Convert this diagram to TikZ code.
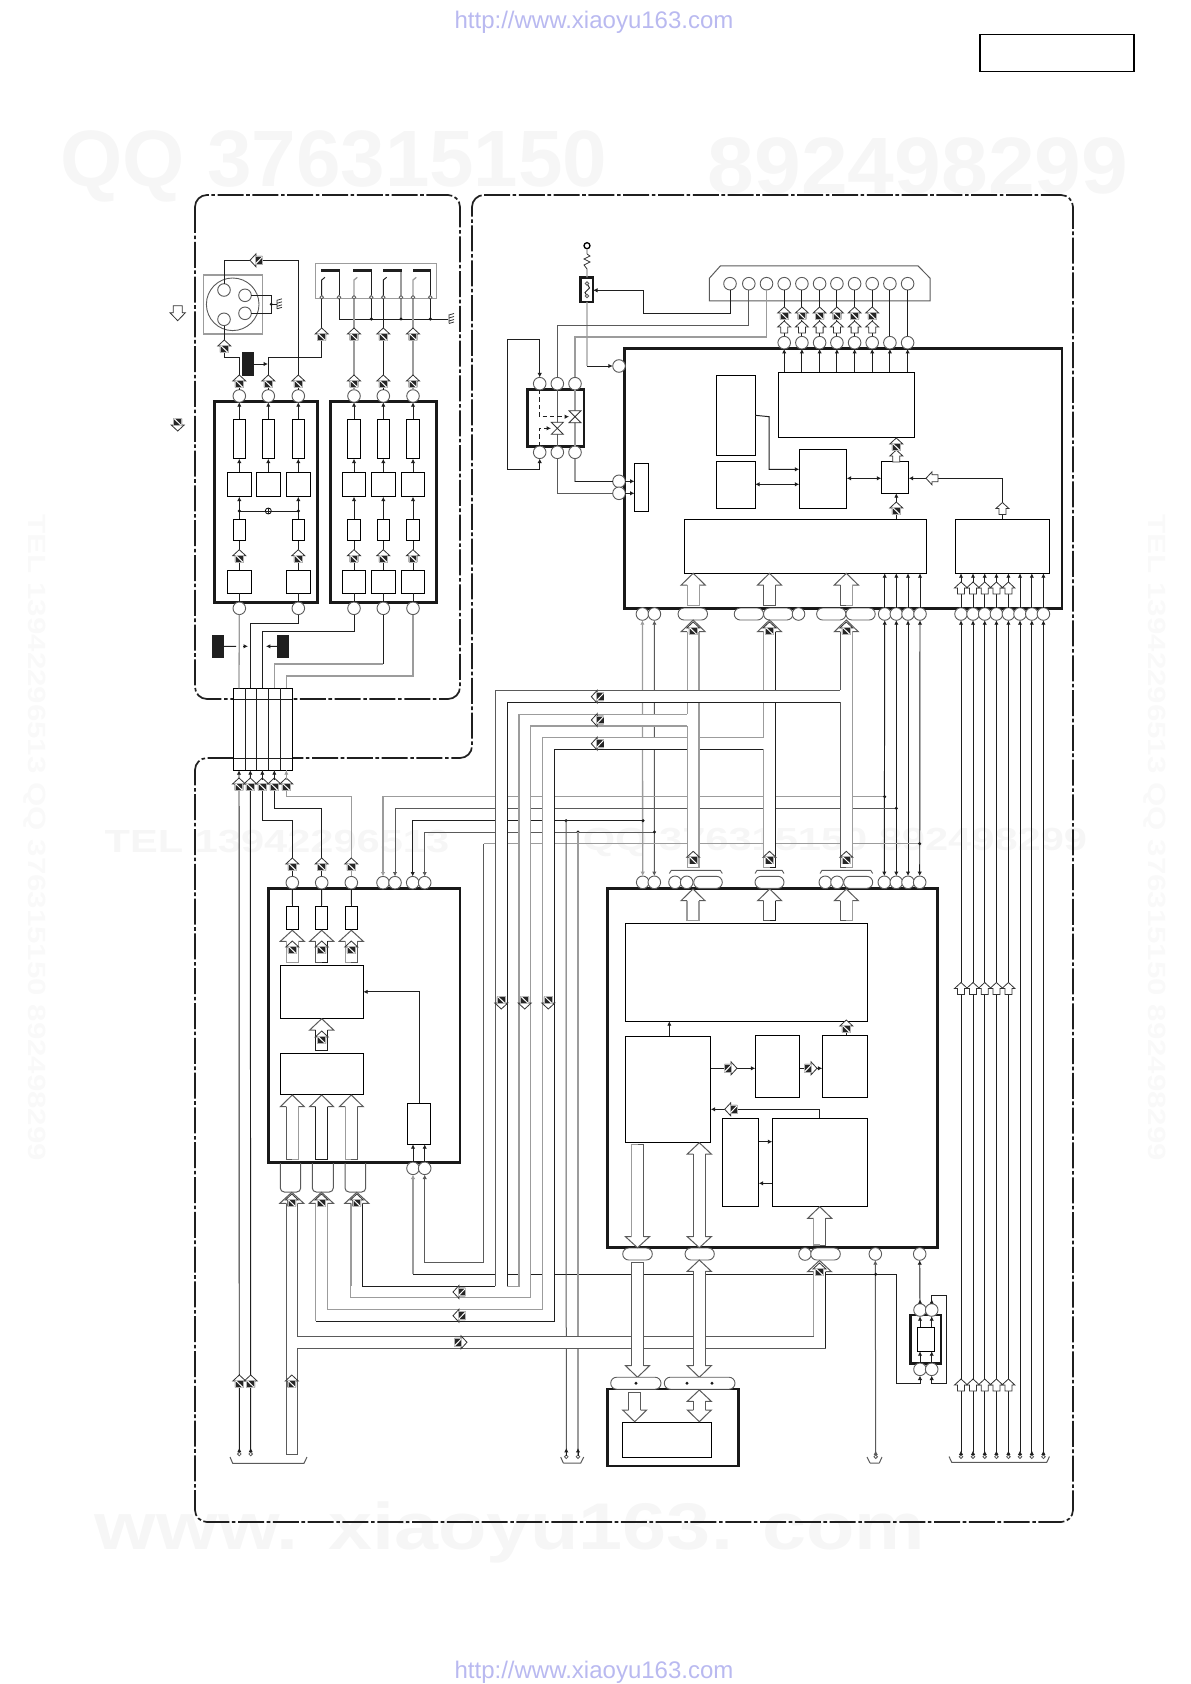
\documentclass[tikz,border=0pt]{standalone}
\usepackage{fontspec}
\setmainfont{Liberation Sans}
\usetikzlibrary{arrows.meta,shapes.misc}
\definecolor{wm}{HTML}{F6F6F6}
\definecolor{wmv}{HTML}{F9F9F9}
\definecolor{urlc}{HTML}{B9B9F0}
\definecolor{gw1}{HTML}{9C9C9C}
\definecolor{dw1}{HTML}{5A5A5A}
\tikzset{
 wr/.style={line width=.48pt,black!88},
 gw/.style={line width=.65pt,gw1},
 dw/.style={line width=.5pt,dw1},
 ar/.style={-{Latex[length=2.2pt,width=2.2pt]}},
 ra/.style={{Latex[length=2.2pt,width=2.2pt]}-},
 aa/.style={{Latex[length=2.2pt,width=2.2pt]}-{Latex[length=2.2pt,width=2.2pt]}},
 uu/.style={{Latex[length=2.2pt,width=2.2pt]}-{Latex[length=2.2pt,width=2.2pt,reversed]}},
 pn/.style={circle,draw=dw1,line width=.45pt,fill=white,minimum size=6.3pt,inner sep=0pt,outer sep=0pt},
 tc/.style={circle,draw=dw1,line width=.4pt,fill=white,minimum size=1.8pt,inner sep=0pt,outer sep=0pt},
 blk/.style={rectangle,draw=black,line width=.5pt,inner sep=0pt,outer sep=0pt},
 blkw/.style={blk,fill=white},
 blkg/.style={rectangle,draw=gw1,line width=.6pt,inner sep=0pt,outer sep=0pt},
 thk/.style={rectangle,draw=black!90,line width=1.3pt,inner sep=0pt,outer sep=0pt},
 blkt/.style={rectangle,draw=black,line width=.65pt,inner sep=0pt,outer sep=0pt},
 blkb/.style={rectangle,fill=black!88,inner sep=0pt,outer sep=0pt},
 pl/.style={rounded rectangle,draw=dw1,line width=.45pt,fill=white,inner sep=0pt,outer sep=0pt},
 bnd/.style={line width=.85pt,black!88,rounded corners=6pt,dash pattern=on 13pt off 1.3pt on 1.8pt off 1.3pt},
 wmk/.style={text=wm,inner sep=0pt,transform shape},
 wmkv/.style={text=wmv,inner sep=0pt,transform shape},
 urlt/.style={text=urlc,inner sep=0pt,font=\fontsize{12}{12}\selectfont},
 sl/.style={line width=.4pt,black!80},
}
\newcommand\blk[6][blk]{\pgfmathsetmacro\bw{((#5)-(#3))*0.5}\pgfmathsetmacro\bh{((#6)-(#4))*0.5}%
 \node[#1,minimum width=\bw pt,minimum height=\bh pt] (#2) at ({((#3)+(#5))/2},{((#4)+(#6))/2}) {};}
\newcommand\pill[4]{\pgfmathsetmacro\bw{((#3)-(#2))*0.5}%
 \node[pl,minimum width=\bw pt,minimum height=6pt] (#1) at ({((#2)+(#3))/2},#4) {};}
\newcommand\sig[3]{\begin{scope}[shift={(#1,#2)},rotate=#3]
 \draw[sl,fill=white] (0,-7)--(6.5,-1)--(4,-1)--(4,5)--(-4,5)--(-4,-1)--(-6.5,-1)--cycle;
 \fill[black!30] (-4.3,-2) rectangle (4.3,6);
 \fill[black!85] (-3.3,-1.2) rectangle (3.3,5.2);
 \draw[white,line width=.5pt] (-3.3,-1.2)--(3.3,5.2);
\end{scope}}
\newcommand\hout[3]{\begin{scope}[shift={(#1,#2)},rotate=#3]
 \draw[sl,fill=white] (0,-6)--(6.5,0)--(3.5,0)--(3.5,6)--(-3.5,6)--(-3.5,0)--(-6.5,0)--cycle;
\end{scope}}
\newcommand\bus[6]{\fill[white] ({#1-12},#3)--(#1,#2)--({#1+12},#3)--({#1+6},#3)--({#1+6},#4)--({#1-6},#4)--({#1-6},#3)--cycle;
 \draw[dw] ({#1-6},#3)--({#1-12},#3)--(#1,#2)--({#1+12},#3)--({#1+6},#3);
 \draw[#5] ({#1-6},#3)--({#1-6},#4)--(#1,#4);
 \draw[#6] ({#1+6},#3)--({#1+6},#4)--(#1,#4);}
\newcommand\dbus[7]{\fill[white] ({#1-6},#3) rectangle ({#1+6},#4);
 \fill[white] ({#1-12},#3)--(#1,#2)--({#1+12},#3)--cycle;
 \fill[white] ({#1-12},#4)--(#1,#5)--({#1+12},#4)--cycle;
 \draw[dw] ({#1-6},#3)--({#1-12},#3)--(#1,#2)--({#1+12},#3)--({#1+6},#3);
 \draw[dw] ({#1-6},#4)--({#1-12},#4)--(#1,#5)--({#1+12},#4)--({#1+6},#4);
 \draw[#6] ({#1-6},#3)--({#1-6},#4);
 \draw[#7] ({#1+6},#3)--({#1+6},#4);}
\newcommand\bhead[3]{\fill[white] ({#1-12},#3)--(#1,#2)--({#1+12},#3)--cycle;
 \draw[dw] ({#1-6},#3)--({#1-12},#3)--(#1,#2)--({#1+12},#3)--({#1+6},#3);}
\newcommand\jdot[2]{\fill[black!90] (#1,#2) circle[radius=.85pt];}
\newcommand\hglass[2]{\draw[sl,fill=white] ({#1-6},{#2-6})--({#1+6},{#2-6})--({#1-6},{#2+6})--({#1+6},{#2+6})--cycle;}
\newcommand\gndsym[2]{\draw[sl] (#1,{#2-4.5})--(#1,{#2+4.5}) (#1,{#2-4})--({#1+5},{#2-5.5}) (#1,{#2-1})--({#1+5},{#2-2.5}) (#1,{#2+2})--({#1+5},{#2+.5}) (#1,{#2+4.5})--({#1+5},{#2+3});}
\begin{document}
\begin{tikzpicture}[x=0.5pt,y=-0.5pt]
\useasboundingbox (0,0) rectangle (1190,1684);
%% watermarks
\node[wmk,font=\bfseries\fontsize{40}{40}\selectfont] (w1) at (334,166) {QQ 376315150};
\node[wmk,font=\bfseries\fontsize{40}{40}\selectfont,xscale=1.05] (w2) at (918,166) {892498299};
\node[wmk,font=\bfseries\fontsize{16}{16}\selectfont,xscale=1.3] (w3) at (277,842) {TEL 13942296513};
\node[wmk,font=\bfseries\fontsize{16}{16}\selectfont,xscale=1.3] (w4) at (835,842) {QQ 376315150 892498299};
\node[wmk,font=\bfseries\fontsize{33}{33}\selectfont,xscale=1.2] (w5) at (510,1532) {www. xiaoyu163. com};
\node[wmkv,font=\bfseries\fontsize{12.5}{12.5}\selectfont,rotate=-90,xscale=1.25] (w6) at (35,838) {TEL 13942296513 QQ 376315150 892498299};
\node[wmkv,font=\bfseries\fontsize{12.5}{12.5}\selectfont,rotate=-90,xscale=1.25] (w7) at (1155,838) {TEL 13942296513 QQ 376315150 892498299};
\node[urlt] (u1) at (594,22) {http://www.xiaoyu163.com};
\node[urlt] (u2) at (594,1672) {http://www.xiaoyu163.com};
\blk[blkt]{title}{980}{34.5}{1134}{71.5}
%% boundaries
\draw[bnd] (195,195) rectangle (460,699);
\draw[bnd] (472,195) -- (1073,195) -- (1073,1522) -- (195,1522) -- (195,758) -- (472,758) -- cycle;
%% legend arrows
\draw[sl,fill=white] (170,312.7)--(173.2,312.7)--(173.2,305.7)--(182.2,305.7)--(182.2,312.7)--(185.4,312.7)--(177.7,320.7)--cycle;
\sig{177.7}{424}{180}
%% plug
\blk[blkg]{sq}{203.3}{275}{262.3}{334}
\node[circle,draw=dw1,line width=.45pt,minimum size=26.3pt,inner sep=0pt] (plug) at (232.7,304.3) {};
\foreach \n/\x/\y in {cn1/224/290,cn2/245/295.3,cn3/245/313.3,cn4/224/319.3}{\node[pn] (\n) at (\x,\y) {};}
\draw[wr] (cn2.east) -| (271.3,313.3) -- (cn3.east);
\draw[wr] (271.3,304.3) -- (276.7,304.3); \jdot{271.3}{304.3}
\gndsym{277}{304.3}
%% switches
\blk[blkg]{swb}{315.3}{263.3}{436.3}{298.3}
\foreach \n/\x in {sd1/321.7,sd2/339,sd3/354,sd4/371.3,sd5/383.3,sd6/401,sd7/413,sd8/430.3}{\node[tc] (\n) at (\x,297.3) {};}
\blk[blkb]{b1}{321}{269}{340}{272.5}
\blk[blkb]{b2}{353.3}{269}{372}{272.5}
\blk[blkb]{b3}{383}{269}{401.7}{272.5}
\blk[blkb]{b4}{412.7}{269}{431}{272.5}
\draw[wr] (sd1.north)--(321.7,280)--(325,277.3);
\draw[gw] (sd3.north)--(354,280)--(357.3,277.3);
\draw[wr] (sd5.north)--(383.3,280)--(386.6,277.3);
\draw[gw] (sd7.north)--(413,280)--(416.3,277.3);
\draw[wr] (sd2.north)--(sd2|-b1.south);
\draw[wr] (sd4.north)--(sd4|-b2.south);
\draw[gw] (sd6.north)--(sd6|-b3.south);
\draw[wr] (sd8.north)--(sd8|-b4.south);
\draw[wr] (sd2.south) |- (448.3,319);
\draw[wr] (sd4.south)--(371.3,319); \draw[gw] (sd6.south)--(401,319); \draw[wr] (sd8.south)--(430.3,319);
\jdot{371.3}{319}\jdot{401}{319}\jdot{430.3}{319}
\gndsym{449}{319}
%% IC 1 and 2
\blk[thk]{ic1}{214.3}{401.7}{317.7}{602.7}
\blk[thk]{ic2}{330.3}{401.7}{436.3}{602.7}
\foreach \n/\x in {a1/239.3,a2/268.3,a3/298.3,b1/354,b2/383.3,b3/413}{
 \node[pn] (p\n) at (\x,396) {};
 \blk{t\n}{\x-6.2}{419.3}{\x+6.2}{458.7}
 \blk{m\n}{\x-11.9}{472.3}{\x+11.9}{496.7}
 \draw[wr,ar] (t\n.north)--(p\n.south);
 \draw[wr,ar] (m\n.north)--(t\n.south);
}
\foreach \n/\x in {a1/239.3,a3/298.3,b1/354,b2/383.3,b3/413}{
 \blk{s\n}{\x-6.2}{519.3}{\x+6.2}{540.7}
 \blk{c\n}{\x-11.9}{570}{\x+11.9}{593.3}
 \node[pn] (q\n) at (\x,608.3) {};
 \draw[wr,ar] (s\n.north)--(m\n.south);
 \draw[wr] (c\n.north)--(s\n.south);
 \draw[wr] (q\n.north)--(c\n.south);
 \sig{\x}{556.7}{0}
}
\node[circle,draw=black,line width=.4pt,minimum size=3pt,inner sep=0pt] (mix) at (268.3,511) {};
\draw[wr] (mix.north) -- (mix.south) (mix.west) -- (mix.east);
\draw[wr] (mix.west)--(239.3,511) (mix.east)--(298.3,511);
\jdot{239.3}{511}\jdot{298.3}{511}
%% connections of IC1/2 to plug & switches
\draw[wr] (cn1.north) |- (298.3,260.3) -- (pa3.north);
\draw[wr] (cn4.south) |- (239.3,357) -- (pa1.north);
\draw[wr] (pa2.north) |- (321.7,357.3) -- (sd1.south);
\draw[gw] (pb1.north)--(sd3.south);
\draw[wr] (pb2.north)--(sd5.south);
\draw[gw] (pb3.north)--(sd7.south);
\blk[blkb]{br1}{242}{352.3}{254}{375.7}
\draw[wr,ar] (br1.east)--(268,364);
\sig{257}{260.3}{90}
\sig{224.3}{347}{0}
\foreach \x in {321.7,354,383.3,413}{\sig{\x}{335}{0}}
\foreach \x in {239.3,268.3,298.3,354,383.3,413}{\sig{\x}{382}{0}}
%% connector block
\blk[blkw]{conn}{233.7}{688.3}{292.3}{770.3}
\draw[wr] (233.7,699.3)--(292.3,699.3) (233.7,758.3)--(292.3,758.3);
\foreach \x in {245.3,256.7,268.7,280.7}{\draw[wr] (\x,688.3)--(\x,770.3);}
\foreach \n/\x in {ct1/239,ct2/250.3,ct3/262.3,ct4/274.3,ct5/286.3}{\coordinate (\n) at (\x,688.3); \coordinate (\n b) at (\x,770.3);}
\draw[gw] (qa1.south)--(ct1);
\draw[wr] (qa3.south) |- (250.3,623.3) -- (ct2);
\draw[wr] (qb1.south) |- (262.3,631.3) -- (ct3);
\draw[wr] (qb2.south) -- (383.3,664);
\draw[gw] (383.3,664) -- (274.3,664) -- (ct4);
\draw[gw] (qb3.south) |- (286.3,676) -- (ct5);
\blk[blkb]{br2}{212}{635}{224}{657.7}
\blk[blkb]{br3}{277}{635}{289}{657.7}
\draw[wr] (br2.east)--(236,646.3);
\draw[wr,ar] (243,646.3)--(248,646.3);
\draw[wr,ar] (br3.west)--(266,646.3);
%% IC 3
\blk[thk]{ic3}{268.3}{888.3}{460}{1162.7}
\foreach \n/\x in {w1/292.3,w2/321.7,w3/351.3,w4/383,w5/395,w6/412.7,w7/424.7}{\node[pn] (\n) at (\x,882.7) {};}
\blk{r1}{286.3}{906.3}{298.7}{929.3}
\blk{r2}{315.3}{906.3}{327.7}{929.3}
\blk{r3}{345.3}{906.3}{357.7}{929.3}
\draw[wr] (w1.south)--(r1.north); \draw[wr] (w2.south)--(r2.north); \draw[wr] (w3.south)--(r3.north);
\blk{ib1}{280.3}{965.3}{363.3}{1018.3}
\blk{ib2}{280.3}{1053.3}{363.3}{1094.3}
\blk{ib3}{407.3}{1103.3}{430.7}{1144.3}
\draw[wr,ar] (ib3.north) |- (ib1.east);
\node[pn] (z1) at (413,1168.3) {};
\node[pn] (z2) at (424.7,1168.3) {};
\draw[wr,ar] (z1.north)--(413,1144.3);
\draw[wr,ar] (z2.north)--(424.7,1144.3);
\bus{292.3}{930.3}{941.3}{962.3}{gw}{gw}
\bus{321.7}{930.3}{941.3}{962.3}{dw}{wr}
\bus{351.3}{930.3}{941.3}{962.3}{gw}{dw}
\sig{292.3}{948}{0}\sig{321.7}{948}{0}\sig{351.3}{948}{0}
\bus{321.7}{1018.7}{1030}{1050.3}{wr}{wr}
\sig{321.7}{1038}{0}
\bus{292.3}{1095}{1106.7}{1159.3}{dw}{gw}
\bus{321.7}{1095}{1106.7}{1159.3}{wr}{wr}
\bus{351.3}{1095}{1106.7}{1159.3}{gw}{dw}
\foreach \a/\b in {280.3/300.7,312.3/333.3,345/365.7}{
 \draw[dw,rounded corners=2pt] (\a,1163)--(\a,1192)--(\b,1192)--(\b,1163);
}
%% wires from connector to IC3
\draw[wr] (ct3b) -- (262.3,820) -| (w1.north);
\draw[wr] (ct4b) -- (274.3,808.7) -| (w2.north);
\draw[gw] (ct5b) -- (286.3,796.7) -| (w3.north);
\foreach \x in {292.3,321.7,351.3}{\sig{\x}{865}{0}}
%% IC 4
\blk[thk]{ic4}{624.7}{348.7}{1061.9}{608.3}
\draw[dw,line width=.5pt] (709.3,301)--(709.3,278.3)--(720.3,266)--(918.1,266)--(930.2,278.3)--(930.2,301)--cycle;
\foreach \i/\x in {1/730,2/748.8,3/766.5,4/784.2,5/801.9,6/819.6,7/836.9,8/854.6,9/872.2,10/889.9,11/907.6}{\node[pn] (dp\i) at (\x,283.7) {};}
\foreach \i/\x in {1/784.2,2/801.9,3/819.6,4/836.9,5/854.6,6/872.2,7/889.9,8/907.6}{\node[pn] (tp\i) at (\x,342.7) {};}
\blk{d1}{778.2}{372.3}{914.4}{437.3}
\blk{d2}{716.5}{375.3}{755.2}{455.3}
\blk{d3}{716.5}{461.7}{755.2}{508.3}
\blk{d4}{799.3}{449.3}{846.7}{508.3}
\blk{d5}{881.3}{461.7}{908.7}{493.3}
\blk{d6}{684.5}{519.3}{926.4}{573.3}
\blk{d7}{955.4}{519.3}{1049.4}{573.3}
\blk{d8}{634.5}{463.7}{648.4}{511.3}
\foreach \i/\j in {4/1,5/2,6/3,7/4,8/5,9/6,10/7,11/8}{
 \draw[wr] (dp\i.south)--(tp\j.north);
 \draw[wr,ar] (tp\j|-d1.north)--(tp\j.south);
}
\foreach \x in {784.2,801.9,819.6,836.9,854.6,872.2}{\hout{\x}{327}{0}\sig{\x}{314}{0}}
\draw[wr,ar] (d2.east) -- (769.2,416.7) -- (769.2,469.3) -- (799.3,469.3);
\draw[wr,aa] (d3.east|-0,484.3)--(d4.west|-0,484.3);
\draw[wr,aa] (846.7,478.3)--(881.3,478.3);
\draw[wr] (1002.4,519.3)--(1002.4,478.3);
\draw[wr,ar] (1002.4,478.3)--(908.7,478.3);
\hout{1002.4}{508.5}{0}
\hout{932}{478.3}{90}
\draw[wr,ar] (896.3,519.3)--(896.3,493.3);
\sig{896.3}{509}{0}
\draw[wr,ar] (896.3,461.7)--(896.3,437.3);
\hout{896.3}{456}{0}\sig{896.3}{445}{0}
\bus{693.2}{573.3}{585}{605.7}{gw}{gw}
\bus{769.5}{573.3}{585}{605.7}{dw}{dw}
\bus{846.3}{573.3}{585}{605.7}{dw}{gw}
%% IC4 pins
\node[pn] (lp1) at (619,366) {};
\node[pn] (lp2) at (619,481.3) {};
\node[pn] (lp3) at (619,493.3) {};
\draw[wr,ar] (lp2.east)--(d8.west|-lp2);
\draw[wr,ar] (lp3.east)--(d8.west|-lp3);
\node[pn] (f1) at (642.4,614) {};
\node[pn] (f2) at (654.4,614) {};
\pill{fa}{678}{707.5}{614}
\pill{fb}{734.2}{763.5}{614}
\pill{fc}{763.5}{792.9}{614}
\node[pn] (f3) at (798.5,614) {};
\pill{fd}{816.6}{845.9}{614}
\pill{fe}{845.9}{875.2}{614}
\foreach \n/\x in {s1/884.7,s2/896.3,s3/908,s4/920}{
 \node[pn] (\n) at (\x,614) {};
 \draw[wr,ar] (\n.north)--(\n.north|-d6.south);
}
\foreach \n/\x in {k1/961,k2/973,k3/984.7,k4/996.4,k5/1008.4,k6/1020,k7/1031.8,k8/1043.4}{
 \node[pn] (\n) at (\x,614) {};
 \node[tc] (e\n) at (\x,1456.7) {};
 \draw[wr,ar] (\n.north)--(\n.north|-d7.south);
 \draw[wr,uu] (\n.south)--(e\n.north);
}
\foreach \x in {961,973,984.7,996.4,1008.4}{\hout{\x}{588}{0}\hout{\x}{988.5}{0}\hout{\x}{1385}{0}}
\draw[dw] (949,1456.5)--(951.7,1462.3)--(1046.7,1462.3)--(1049.5,1456.5);
%% relay + coupler
\blk[thk]{rel}{580.7}{277.3}{593.1}{302}
\node[tc] (rc1) at (587,283.5) {};
\node[tc] (rc2) at (587,296) {};
\draw[wr] (rc1)--(589.5,288)--(585,292.5)--(rc2);
\node[circle,draw=black,line width=.65pt,minimum size=3pt,inner sep=0pt] (top) at (587,245.7) {};
\draw[gw] (top.south)--(587,254) (587,269)--(rel.north);
\draw[sl] (587,254)--(590,256)--(584,259)--(590,262)--(584,265)--(587,269);
\draw[gw] (rel.south)--(587,366);
\draw[wr,ar] (587,366)--(lp1.west);
\draw[wr,ar] (dp1.south) |- (643.5,313.3) -- (643.5,290.3) -- (rel.east|-0,290.3);
\blk[thk]{opto}{527.6}{389.7}{584}{446.3}
\foreach \n/\x in {1/539.7,2/557.3,3/575}{
 \node[pn] (ot\n) at (\x,383.7) {};
 \node[pn] (ob\n) at (\x,452.3) {};
}
\draw[dw] (ot2.south)--(ob2.north);
\draw[gw] (ot3.south)--(ob3.north);
\draw[dw] (ot2.north) |- (748.8,325.3) -- (dp2.south);
\draw[gw] (ot3.north) |- (766.5,337) -- (dp3.south);
\draw[gw] (ob3.south) |- (lp2.west);
\draw[wr] (ob3.south|-lp2.west)--(lp2.west);
\draw[dw] (ob2.south) |- (lp3.west);
\draw[wr,ar] (507.3,339.3)--(539.7,339.3)--(ot1.north);
\draw[wr,ar] (507.3,339.3)--(507.3,469.3)--(539.7,469.3)--(ob1.south);
\hglass{575}{416.7}\hglass{557.3}{428.3}
\draw[wr,dash pattern=on 2.2pt off 1.5pt] (ot1.south)--(539.7,416.7)--(566,416.7);
\draw[wr,ar] (566,416.7)--(569,416.7);
\draw[wr,dash pattern=on 2.2pt off 1.5pt] (ob1.north)--(539.7,428.3)--(548,428.3);
\draw[wr,ar] (548,428.3)--(551,428.3);
%% IC 5
\blk[thk]{ic5}{607.3}{888.3}{937.7}{1247.7}
\foreach \n/\x in {v1/642.7,v2/654.3,v3/675,v4/686.7,v5/825.3,v6/837,u1/884.3,u2/896.3,u3/908,u4/919.7}{\node[pn] (\n) at (\x,882.3) {};}
\pill{ga}{693.7}{722.3}{882.3}
\pill{gb}{755}{784}{882.3}
\pill{gc}{843.7}{872.7}{882.3}
\foreach \a/\b in {669.3/722.3,755/784,820/872.7}{\draw[dw,line width=.45pt] (\a,873.5)--({\a+2},870.3)--({\b-2},870.3)--(\b,873.5);}
\draw[gw,aa] (v1.north)--(f1.south);
\draw[dw,aa] (v2.north)--(f2.south);
\foreach \i in {1,2,3,4}{\draw[wr,aa] (u\i.north)--(s\i.south);}
\blk{e1}{625.3}{923.3}{867.3}{1021.3}
\blk{e2}{625.3}{1036.3}{710.7}{1142.7}
\blk{e3}{755.3}{1035.3}{799.7}{1097.3}
\blk{e4}{822.3}{1035.3}{867.3}{1097.3}
\blk{e5}{722.3}{1118.3}{758.7}{1206.3}
\blk{e6}{772.3}{1118.3}{867.3}{1206.3}
\draw[wr,ar] (669.3,1036.3)--(669.3,1021.3);
\draw[wr,ar] (710.7,1068.3)--(755.3,1068.3);
\draw[wr,ar] (799.7,1068.3)--(822.3,1068.3);
\draw[wr,ar] (846.3,1035.3)--(846.3,1021.3);
\draw[wr,ar] (819.7,1118.3) |- (710.7,1109.3);
\draw[wr,ar] (758.7,1141.7)--(772.3,1141.7);
\draw[wr,ar] (772.3,1183.3)--(758.7,1183.3);
\sig{730}{1068.3}{-90}\sig{810}{1068.3}{-90}\sig{846.3}{1027}{0}\sig{731.7}{1109.3}{90}
\bus{693}{889}{900.7}{920.7}{gw}{gw}
\bus{769.7}{889}{900.7}{920.7}{dw}{wr}
\bus{846.3}{889}{900.7}{920.7}{dw}{gw}
%% IC 5 bottom pins
\pill{ha}{622.7}{652.3}{1254}
\pill{hb}{685}{714.3}{1254}
\node[pn] (h1) at (805,1254) {};
\pill{hc}{810.7}{840.3}{1254}
\node[pn] (h2) at (875.3,1254) {};
\node[pn] (h3) at (919.7,1254) {};
\node[tc] (en) at (875.7,1456.7) {};
\draw[dw,uu] (h2.south)--(en.north);
\draw[dw] (870,1463)--(867,1457) (870,1463)--(879.3,1463) (879.3,1463)--(882,1457);
%% small IC
\blk[thk]{ic7}{910.7}{1315}{941}{1363.3}
\blk{ic7r}{917.3}{1327.3}{934.7}{1351.3}
\node[pn] (y1) at (920,1310) {};
\node[pn] (y2) at (931.7,1310) {};
\node[pn] (y3) at (920,1369.3) {};
\node[pn] (y4) at (931.7,1369.3) {};
\draw[wr,ar] (920,1327.3)--(y1.south);
\draw[wr,ar] (931.7,1327.3)--(y2.south);
\draw[wr,ar] (y3.north)--(920,1351.3);
\draw[wr,ar] (y4.north)--(931.7,1351.3);
\draw[wr,uu] (h3.south)--(y1.north);
\draw[wr,uu] (y4.south)--(931.7,1383.3)--(946.7,1383.3)--(946.7,1295.3)--(931.7,1295.3)--(y2.north);
%% thin wires
\draw[gw,ar] (884.7,796.7) -| (w4.north);
\draw[dw,ar] (896.3,808.3) -| (w5.north);
\draw[wr,ar] (643,820.7) -| (w6.north);
\draw[dw,ar] (654.5,832) -| (w7.north);
\draw[gw] (920,843.7)--(483.7,843.7);
\draw[dw,ar] (483.7,843.7)--(483.7,1262.3)-|(z2.south);
\draw[gw,ar] (413,1274.3)--(z1.south);
\draw[wr,ar] (413,1274.3)--(896.3,1274.3)--(896.3,1383.3)--(920,1383.3)--(y3.south);
\jdot{875.7}{1274.3}
\jdot{884.7}{796.7}\jdot{896.3}{808.3}\jdot{643}{820.7}\jdot{654.5}{832}\jdot{919.7}{843.7}
\jdot{566}{820.7}\jdot{578}{832}
\node[tc] (en1) at (566.3,1456.7) {};
\node[tc] (en2) at (578,1456.7) {};
\node[tc] (en3) at (239.3,1454) {};
\node[tc] (en4) at (250.7,1454) {};
\draw[dw] (566,820.7)--(en1.north);
\draw[gw] (578,832)--(en2.north);
\draw[wr,ar] (566.3,1456)--(566.3,1448); \draw[wr,ar] (578,1456)--(578,1448);
\draw[wr,uu] (ct1b)--(en3.north);
\draw[wr,uu] (ct2b)--(en4.north);
\draw[dw] (563.3,1463)--(560.7,1457) (563.3,1463)--(580.7,1463)--(583.7,1457);
\draw[dw] (232.7,1463.3)--(230,1457) (232.7,1463.3)--(304,1463.3)--(307,1457);
\foreach \x in {239.3,250.7}{\sig{\x}{1382}{0}}
\foreach \x in {239,250.3,262.3,274.3,286.3}{\sig{\x}{785}{0}}
\draw[wr,ar] (262.3,780)--(ct3b); \draw[wr,ar] (274.3,780)--(ct4b); \draw[gw,ar] (286.3,780)--(ct5b);
%% bus R and Q (to the buses of IC 4)
\fill[white] (542.3,737.7) rectangle (763.7,749.3);
\fill[white] (542.3,737.7) rectangle (554,1321.3);
\fill[white] (315.7,1309.7) rectangle (554,1321.3);
\fill[white] (519,714.3) rectangle (687.3,726);
\fill[white] (519,714.3) rectangle (530.7,1297.7);
\fill[white] (351,1286.3) rectangle (530.7,1297.7);
\fill[white] (495.3,702) rectangle (507,1297.7);
\draw[gw] (763.7,737.7)--(542.3,737.7)--(542.3,1309.7)--(327.3,1309.7)--(327.3,1203.3);
\draw[wr] (763.7,749.3)--(554,749.3)--(554,1321.3)--(315.7,1321.3);
\draw[gw] (315.7,1321.3)--(315.7,1203.3);
\draw[gw] (687.3,714.3)--(519,714.3)--(519,1286.3)--(507,1286.3);
\draw[gw] (687.3,726)--(530.7,726)--(530.7,1297.7)--(351,1297.7)--(351,1203.3);
%% vertical buses to IC 4
\fill[white] (687.3,631.7) rectangle (699,867.3);
\draw[gw] (687.3,631.7)--(687.3,714.3) (687.3,726)--(687.3,867.3)--(699,867.3)--(699,631.7);
\bhead{693.2}{620}{631.7}
\fill[white] (763.7,631.7) rectangle (775.3,867.3);
\draw[gw] (763.7,631.7)--(763.7,737.7) (763.7,749.3)--(763.7,867.3)--(769.5,867.3);
\draw[wr] (769.5,867.3)--(775.3,867.3)--(775.3,631.7);
\bhead{769.5}{620}{631.7}
%% bus P
\fill[white] (495.3,690.3) rectangle (840.3,702.3);
\fill[white] (495.3,690.3) rectangle (507,1286.3);
\fill[white] (351,1286.3) rectangle (495.3,1297.7);
\draw[dw] (840.3,690.3)--(495.3,690.3)--(495.3,1286.3);
\draw[wr] (495.3,1286.3)--(362.7,1286.3)--(362.7,1203.3);
\draw[wr] (840.3,702.3)--(507,702.3)--(507,1286.3);
\draw[gw] (351,1297.7)--(530.7,1297.7);
\fill[white] (840.3,631.7) rectangle (852.3,867.3);
\draw[dw] (840.3,631.7)--(840.3,690.3) (840.3,702.3)--(840.3,867.3)--(846,867.3);
\draw[gw] (846,867.3)--(852.3,867.3)--(852.3,631.7);
\bhead{846.3}{620}{631.7}
\sig{693.2}{629}{0}\sig{769.5}{629}{0}\sig{846.3}{629}{0}
\sig{693.2}{858.3}{0}\sig{769.5}{858.3}{0}\sig{846.3}{858.3}{0}
\sig{598.3}{696.7}{90}\sig{598.3}{720}{90}\sig{598.3}{743.7}{90}
\sig{501.3}{1002}{180}\sig{524.7}{1002}{180}\sig{548.3}{1002}{180}
%% buses below IC 3
\fill[white] (286,1203.3) rectangle (297.7,1454.3);
\fill[white] (297.7,1336) rectangle (813.7,1348.3);
\draw[dw] (286,1203.3)--(286,1454.3)--(297.7,1454.3)--(297.7,1348.3)--(825.7,1348.3);
\draw[dw] (297.7,1203.3)--(297.7,1336)--(813.7,1336);
\fill[white] (813.9,1271.7) rectangle (825.5,1336);
\draw[gw] (813.7,1336)--(813.7,1271.7);
\draw[wr] (825.7,1348.3)--(825.7,1271.7);
\bhead{819.5}{1260.5}{1271.7}
\bhead{291.8}{1192.3}{1203.3}
\bhead{321.5}{1192.3}{1203.3}
\bhead{356.8}{1192.3}{1203.3}
\sig{291.8}{1201}{0}\sig{321.5}{1201}{0}\sig{356.8}{1201}{0}
\sig{819.5}{1270}{0}
\sig{460}{1342.3}{-90}\sig{460}{1315.7}{90}\sig{460}{1292}{90}
\sig{291.8}{1382}{0}
%% big buses between IC 5 and memory
\bus{637.5}{1247.7}{1236.7}{1144.7}{gw}{dw}
\dbus{699.3}{1142.7}{1154}{1236.7}{1247.7}{dw}{dw}
\bus{819.7}{1206.7}{1218.3}{1245}{gw}{dw}
\bus{637.5}{1377.3}{1365.7}{1262.7}{dw}{dw}
\dbus{699.3}{1260}{1271.3}{1365.7}{1377.3}{dw}{dw}
\blk[thk]{ic6}{607.7}{1389}{738.3}{1466}
\pill{ja}{610.7}{661}{1383.2}
\pill{jb}{664.3}{735}{1383.2}
\jdot{636}{1383.2}\jdot{687}{1383.2}\jdot{712}{1383.2}
\blk{ic6r}{622.3}{1422.3}{711.7}{1457.3}
\bus{634.7}{1421.7}{1410}{1392.3}{dw}{dw}
\dbus{699.3}{1390}{1401.3}{1410}{1421.7}{dw}{dw}
\end{tikzpicture}
\end{document}
